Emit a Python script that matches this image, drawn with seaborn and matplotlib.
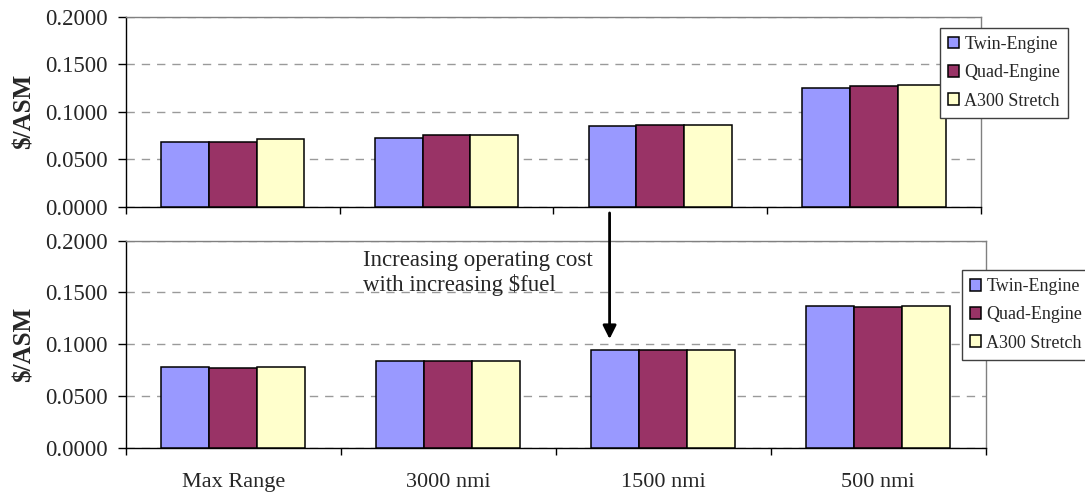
import matplotlib
matplotlib.use("Agg")
import matplotlib.pyplot as plt
from matplotlib.ticker import FixedLocator, FormatStrFormatter
import pandas as pd
import seaborn as sns

# Mission ranges and aircraft configurations
ranges = ["Max Range", "3000 nmi", "1500 nmi", "500 nmi"]
configs = ["Twin-Engine", "Quad-Engine", "A300 Stretch"]

# Operating cost, $/ASM, baseline fuel price
base_twin = [0.0678, 0.0723, 0.0849, 0.1252]
base_quad = [0.0678, 0.0755, 0.0860, 0.1273]
base_a300 = [0.0713, 0.0755, 0.0860, 0.1286]

# Operating cost, $/ASM, increased fuel price
high_twin = [0.0780, 0.0841, 0.0944, 0.1372]
high_quad = [0.0767, 0.0841, 0.0944, 0.1359]
high_a300 = [0.0780, 0.0841, 0.0944, 0.1372]

y_ticks = [0.0, 0.05, 0.10, 0.15, 0.20]
colors = ["#9999FF", "#993366", "#FFFFCC"]


def long_frame(twin, quad, a300):
    rows = []
    for name, vals in zip(configs, [twin, quad, a300]):
        for r, v in zip(ranges, vals):
            rows.append({"range": r, "config": name, "cost": v})
    return pd.DataFrame(rows)


sns.set_theme(style="white")
plt.rcParams["font.family"] = ["Liberation Serif", "DejaVu Serif"]

fig = plt.figure(figsize=(10.85, 4.98), dpi=100)
ax1 = fig.add_axes([0.1161, 0.585, 0.7880, 0.3815])
ax2 = fig.add_axes([0.1161, 0.101, 0.7924, 0.4157])

frames = [long_frame(base_twin, base_quad, base_a300),
          long_frame(high_twin, high_quad, high_a300)]
legend_anchor = [(0.8664, 0.9438), (0.8866, 0.4578)]

for ax, df, anchor in zip([ax1, ax2], frames, legend_anchor):
    sns.barplot(data=df, x="range", y="cost", hue="config",
                order=ranges, hue_order=configs, palette=colors,
                saturation=1, width=0.67, edgecolor="black",
                linewidth=1.1, ax=ax, errorbar=None, zorder=3)
    ax.set_xlim(-0.5, len(ranges) - 0.5)
    ax.set_ylim(0, 0.2)
    ax.yaxis.set_major_locator(FixedLocator(y_ticks))
    ax.yaxis.set_major_formatter(FormatStrFormatter("%.4f"))
    ax.set_axisbelow(True)
    ax.yaxis.grid(True, color="#9a9a9a", linestyle=(0, (6, 5)), linewidth=1.0)
    ax.xaxis.grid(False)

    ax.spines["left"].set_color("black")
    ax.spines["bottom"].set_color("black")
    ax.spines["top"].set_color("#808080")
    ax.spines["right"].set_color("#808080")
    for s in ax.spines.values():
        s.set_linewidth(1.0)
        s.set_visible(True)

    ax.tick_params(axis="y", which="major", left=True, length=6, width=1,
                   pad=7, labelsize=16.5, color="black")
    ax.set_xticks([i - 0.5 for i in range(len(ranges) + 1)], minor=True)
    ax.tick_params(axis="x", which="minor", bottom=True, length=5, width=1,
                   color="black")
    ax.tick_params(axis="x", which="major", bottom=False, length=0, pad=18,
                   labelsize=16)

    ax.set_ylabel("$/ASM", fontsize=18, fontweight="bold", labelpad=7)
    ax.set_xlabel("")

    handles, labels = ax.get_legend_handles_labels()
    ax.legend(handles, labels, loc="upper left", bbox_to_anchor=anchor,
              bbox_transform=fig.transFigure, fontsize=13, frameon=True,
              fancybox=False, edgecolor="#404040", framealpha=1,
              handlelength=0.6, handleheight=0.6, handletextpad=0.3,
              labelspacing=0.62, borderpad=0.45, borderaxespad=0)
    ax.get_legend().get_frame().set_linewidth(1.0)

ax1.tick_params(axis="x", which="major", labelbottom=False)

# Note and arrow showing the effect of fuel price
fig.text(0.3346, 0.498, "Increasing operating cost\nwith increasing $fuel",
         fontsize=16.5, ha="left", va="top", linespacing=1.15)
ax2.annotate("", xy=(1.75, 0.105), xytext=(1.75, 0.2268),
             xycoords="data", textcoords="data", annotation_clip=False,
             arrowprops=dict(arrowstyle="-|>", color="black", lw=2,
                             mutation_scale=20, shrinkA=0, shrinkB=0))

fig.savefig("out.png", dpi=100)
